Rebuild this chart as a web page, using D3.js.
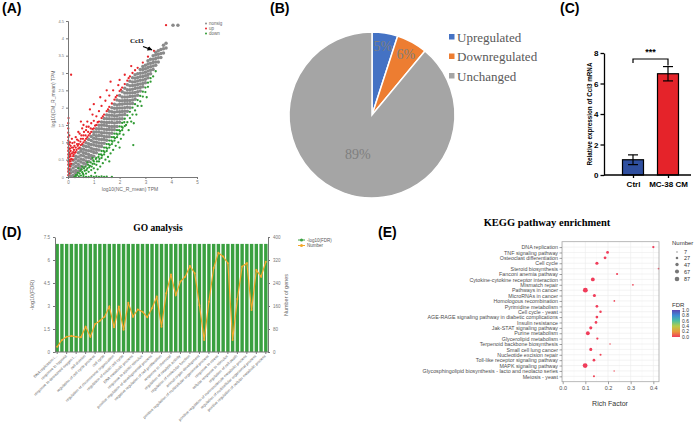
<!DOCTYPE html>
<html><head><meta charset="utf-8">
<script src="https://cdn.jsdelivr.net/npm/d3@7"></script>
<style>body{margin:0;background:#fff}svg{display:block}</style>
</head><body>
<svg id="c" width="694" height="431"></svg>
<script>
// ================= DATA =================
// Panel A: scatter of log10 TPM (CM vs NC)
const volcanoLegend = ["nonsig", "up", "down"];
const grayCols = [
 [0.1,[0.03,0.12,0.21,0.33]],
 [0.2,[0.04,0.15,0.26,0.37,0.48]],
 [0.3,[0.1,0.19,0.3,0.41,0.52,0.6]],
 [0.4,[0.16,0.27,0.36,0.47,0.58,0.7]],
 [0.5,[0.22,0.31,0.43,0.52,0.63,0.74,0.81]],
 [0.6,[0.29,0.4,0.5,0.61,0.7,0.8,0.9]],
 [0.7,[0.37,0.46,0.57,0.68,0.77,0.88,0.99]],
 [0.8,[0.45,0.56,0.65,0.76,0.87,0.96,1.08]],
 [0.9,[0.53,0.62,0.74,0.83,0.94,1.05,1.17]],
 [1.0,[0.6,0.71,0.8,0.92,1.01,1.12,1.22,1.3]],
 [1.1,[0.7,0.79,0.9,1.0,1.1,1.19,1.3,1.39]],
 [1.2,[0.78,0.89,0.98,1.09,1.2,1.3,1.39,1.49]],
 [1.3,[0.88,0.97,1.08,1.19,1.28,1.39,1.49,1.59]],
 [1.4,[0.97,1.08,1.17,1.28,1.38,1.49,1.58,1.69]],
 [1.5,[1.06,1.16,1.27,1.37,1.48,1.57,1.68,1.79]],
 [1.6,[1.16,1.26,1.37,1.46,1.57,1.68,1.78,1.9]],
 [1.7,[1.26,1.36,1.46,1.57,1.67,1.78,1.88,2.0]],
 [1.8,[1.36,1.46,1.56,1.67,1.77,1.87,1.98,2.1]],
 [1.9,[1.46,1.57,1.67,1.77,1.88,1.98,2.08,2.22]],
 [2.0,[1.58,1.68,1.79,1.88,1.99,2.1,2.2,2.35]],
 [2.1,[1.68,1.79,1.89,1.99,2.1,2.2,2.31,2.46]],
 [2.2,[1.8,1.9,2.0,2.11,2.21,2.31,2.42,2.56]],
 [2.3,[1.9,2.01,2.11,2.21,2.31,2.42,2.52,2.66]],
 [2.4,[2.0,2.11,2.21,2.32,2.42,2.52,2.63,2.76]],
 [2.5,[2.12,2.22,2.33,2.43,2.53,2.64,2.74,2.86]],
 [2.6,[2.24,2.34,2.44,2.55,2.65,2.75,2.85,2.95]],
 [2.7,[2.36,2.46,2.57,2.67,2.77,2.87,2.98]],
 [2.8,[2.48,2.58,2.68,2.79,2.89,2.99,3.1]],
 [2.9,[2.6,2.7,2.8,2.9,3.0,3.1,3.19]],
 [3.0,[2.72,2.82,2.92,3.02,3.12,3.22]],
 [3.1,[2.86,2.96,3.06,3.16,3.26,3.35]],
 [3.2,[2.98,3.08,3.18,3.28,3.4]],
 [3.3,[3.1,3.2,3.3,3.4,3.5]],
 [3.4,[3.22,3.32,3.42,3.52,3.6]],
 [3.5,[3.32,3.44,3.54,3.64]],
 [3.6,[3.45,3.56,3.68]],
 [3.7,[3.58,3.7,3.8]],
 [3.8,[3.72,3.86]],
 [4.07,[4.38]],
 [4.26,[4.38]]
];
const upPts = [
 [0.01,0.05],[0.01,0.15],[0.01,0.25],[0.01,0.35],[0.01,0.45],[0.01,0.55],[0.01,0.65],[0.01,0.75],
 [0.01,0.85],[0.01,0.95],[0.01,1.05],[0.01,1.15],[0.01,1.28],[0.01,1.4],[0.01,1.55],
 [0.05,0.1],[0.05,0.22],[0.05,0.34],[0.05,0.46],[0.05,0.58],[0.05,0.7],[0.05,0.82],[0.05,0.94],
 [0.1,0.45],[0.1,0.6],[0.1,0.75],[0.1,0.9],[0.15,1.1],[0.2,0.6],[0.2,0.72],[0.2,0.85],[0.25,1.0],
 [0.3,0.72],[0.3,0.85],[0.3,1.15],[0.35,0.95],[0.4,0.82],[0.4,1.05],[0.45,1.25],[0.5,0.92],[0.5,1.1],
 [0.55,1.4],[0.6,1.0],[0.6,1.2],[0.7,1.1],[0.7,1.35],[0.75,1.6],[0.8,1.2],[0.8,1.45],[0.9,1.3],
 [0.9,1.55],[0.95,1.8],[1.0,1.4],[1.0,1.62],[1.1,1.5],[1.1,1.75],[1.2,1.6],[1.2,1.9],[1.3,1.7],
 [1.3,2.05],[1.4,1.8],[1.45,2.2],[1.5,1.9],[1.6,2.02],[1.6,2.35],[1.7,2.12],[1.75,2.5],[1.8,2.23],
 [1.9,2.35],[1.95,2.65],[2.0,2.48],[2.1,2.58],[2.2,2.68],[2.2,2.95],[2.3,2.78],[2.4,2.9],[2.5,3.0],
 [2.6,3.08],[2.7,3.15],[2.45,3.2],[2.9,3.3],[3.1,3.47],[3.33,3.64],[0.12,2.95],[3.8,4.38],[1.65,2.75],
 [0.85,1.95],[0.4,1.3],[0.6,1.5],[1.25,2.3],
 [0.02,0.2],[0.03,0.4],[0.03,0.6],[0.03,0.8],[0.03,1.0],[0.08,0.3],[0.08,0.5],[0.08,0.65],[0.08,0.82],
 [0.08,1.0],[0.12,0.38],[0.13,0.52],[0.15,0.68],[0.15,0.85],[0.17,0.98],[0.18,0.5],[0.22,0.65],[0.23,0.78],
 [0.25,0.9],[0.27,0.7],[0.33,0.78],[0.35,1.08],[0.38,0.9],[0.42,0.95],[0.45,0.85],[0.48,1.02],[0.52,1.2],
 [0.55,0.95],[0.58,1.1],[0.62,1.3],[0.65,1.05],[0.68,1.2],[0.72,1.45],[0.75,1.15],[0.78,1.3],[0.85,1.25],
 [0.88,1.4],[0.95,1.38],[1.05,1.48],[1.15,1.58],[1.35,1.75],[1.55,1.95],[1.85,2.3],[2.05,2.52],[2.35,2.85],
 [0.02,1.7],[0.05,1.2],[0.5,1.6],[1.0,2.1],[1.5,2.5],[2.0,2.8]
];
const downPts = [
 [0.25,0.0],[0.35,0.06],[0.45,0.1],[0.5,0.04],[0.55,0.14],[0.6,0.06],[0.65,0.18],[0.7,0.1],[0.75,0.25],
 [0.8,0.15],[0.85,0.32],[0.9,0.2],[0.95,0.38],[1.0,0.25],[1.0,0.45],[1.05,0.12],[1.1,0.35],[1.1,0.55],
 [1.15,0.22],[1.2,0.45],[1.2,0.65],[1.25,0.3],[1.3,0.55],[1.3,0.75],[1.35,0.4],[1.4,0.65],[1.4,0.85],
 [1.45,0.5],[1.5,0.75],[1.5,0.95],[1.55,0.58],[1.6,0.85],[1.6,1.05],[1.65,0.68],[1.7,0.95],[1.7,1.15],
 [1.75,0.78],[1.8,1.05],[1.8,1.25],[1.85,0.9],[1.9,1.15],[1.9,1.35],[1.95,1.0],[2.0,1.25],[2.0,1.46],
 [2.05,1.1],[2.1,1.35],[2.1,1.56],[2.15,1.22],[2.2,1.47],[2.2,1.68],[2.3,1.58],[2.3,1.78],[2.35,1.35],
 [2.4,1.7],[2.4,1.88],[2.5,1.8],[2.5,2.0],[2.55,1.55],[2.6,1.92],[2.6,2.1],[2.7,2.05],[2.7,2.22],
 [2.8,2.18],[2.8,2.34],[2.9,2.32],[2.9,2.46],[3.0,2.45],[3.0,2.58],[3.1,2.6],[3.1,2.72],[3.2,2.75],
 [3.2,2.85],[3.3,2.9],[3.4,3.05],[2.53,0.92],[1.0,0.0],[1.5,0.01],[0.9,0.03],[1.3,0.02],[0.55,0.3],
 [0.75,0.42],[0.95,0.55],[1.6,0.45],[2.0,0.85],[0.4,0.25],[0.3,0.0],[0.7,0.0],[1.2,0.0],[1.7,0.0],
 [0.3,0.05],[0.38,0.12],[0.42,0.02],[0.48,0.18],[0.52,0.22],[0.58,0.1],[0.62,0.25],[0.68,0.3],[0.72,0.2],
 [0.78,0.35],[0.82,0.28],[0.88,0.42],[0.92,0.3],[0.98,0.48],[1.02,0.38],[1.08,0.52],[1.12,0.45],[1.18,0.58],
 [1.22,0.52],[1.28,0.65],[1.32,0.62],[1.38,0.75],[1.42,0.72],[1.48,0.85],[1.52,0.82],[1.58,0.95],[1.62,0.92],
 [1.68,1.05],[1.72,1.02],[1.78,1.15],[1.82,1.12],[1.88,1.25],[1.92,1.22],[1.98,1.35],[2.02,1.32],[2.08,1.45],
 [2.12,1.42],[2.18,1.58],[2.25,1.5],[2.45,1.6],[2.65,1.8],[2.85,2.05],[3.05,2.3],[1.1,0.02],[0.8,0.0],
 [1.4,0.0],[0.6,0.0]
];
const aXTicks = [0, 1, 2, 3, 4, 5];
const aYTicks = [0, 0.5, 1, 1.5, 2, 2.5, 3, 3.5, 4, 4.5];

// Panel B: pie
const pieCats = ["Upregulated", "Downregulated", "Unchanged"];
const pieVals = [5, 6, 89];

// Panel C: qPCR
const qpcrGroups = ["Ctrl", "MC-38 CM"];
const qpcrMean = [1.0, 6.64];
const qpcrErr = [0.32, 0.47];
const qpcrTicks = [0, 2, 4, 6, 8];

// Panel D: GO analysis
const goLabels = [
 "DNA replication i...", "response to hypoxia", "response to decreased oxygen l...", "cell division",
 "regulation of cell cycle process", "cell cycle", "regulation of chromosome organization",
 "regulation of mitotic cell cycle", "DNA metabolic process", "response to abiotic stimulus",
 "positive regulation of developmental process", "negative regulation of cell proliferation",
 "response to chemical", "regulation of catalytic activity", "regulation of molecular function",
 "animal organ development", "positive regulation of multicellular organismal process",
 "response to stress", "cellular response to stimulus", "regulation of cell death",
 "positive regulation of macromolecule metabolic process",
 "regulation of multicellular organismal process", "positive regulation of cellular metabolic process"
];
const goFDR = [7.05,7.05,7.05,7.05,7.05,7.05,7.05,7.05,7.05,7.05,7.05,7.05,7.05,7.05,7.05,
 7.05,7.05,7.05,7.05,7.05,7.05,7.05,7.05,7.05,7.05,7.05,7.05,7.05,7.05,7.05,
 7.05,7.05,7.05,7.05,7.05,7.05,7.05,7.05,7.05,7.05,7.05,7.05,7.05,7.05,7.05];
const goNumber = [18,42,53,56,53,51,88,53,97,109,123,158,86,158,77,171,123,148,140,121,152,192,88,204,
 270,198,245,262,299,274,163,42,175,292,345,332,309,42,184,297,309,146,285,262,314];
const goLeftTicks = [0, 1.5, 3, 4.5, 6, 7.5];
const goRightTicks = [0, 80, 160, 240, 320, 400];
const goLegend = ["-log10(FDR)", "Number"];

// Panel E: KEGG
const keggPathways = ["DNA replication","TNF signaling pathway","Osteoclast differentiation","Cell cycle",
 "Steroid biosynthesis","Fanconi anemia pathway","Cytokine-cytokine receptor interaction","Mismatch repair",
 "Pathways in cancer","MicroRNAs in cancer","Homologous recombination","Pyrimidine metabolism",
 "Cell cycle - yeast","AGE-RAGE signaling pathway in diabetic complications","Insulin resistance",
 "Jak-STAT signaling pathway","Purine metabolism","Glycerolipid metabolism","Terpenoid backbone biosynthesis",
 "Small cell lung cancer","Nucleotide excision repair","Toll-like receptor signaling pathway",
 "MAPK signaling pathway","Glycosphingolipid biosynthesis - lacto and neolacto series","Meiosis - yeast"];
const keggRich = [0.40,0.198,0.187,0.151,0.423,0.24,0.133,0.31,0.10,0.14,0.228,0.151,0.167,0.151,0.147,
 0.124,0.111,0.153,0.209,0.124,0.167,0.138,0.099,0.227,0.138];
const keggNumber = [22,32,32,40,12,18,60,12,97,40,12,30,25,30,30,40,60,22,8,38,18,30,95,8,18];
const keggFDR = [0.001,0.001,0.002,0.001,0.01,0.01,0.001,0.02,0.001,0.002,0.02,0.003,0.01,0.004,0.005,
 0.003,0.002,0.01,0.03,0.004,0.02,0.005,0.001,0.03,0.02];
const keggSizeBreaks = [7, 27, 47, 67, 87];
const keggFdrTicks = [0, 0.2, 0.4, 0.6, 0.8, 1.0];
const keggRichTicks = [0, 0.1, 0.2, 0.3, 0.4];

// ================= DRAW =================
const svg = d3.select("#c");
const SANS = "Liberation Sans, Arial, sans-serif";
const SERIF = "Liberation Serif, Times New Roman, serif";

function panelLabel(t, x, y) {
  svg.append("text").attr("x", x).attr("y", y).text(t)
    .attr("font-family", SANS).attr("font-weight", "bold").attr("font-size", 14).attr("fill", "#000");
}
function styleAxis(g, color, fs, family) {
  g.select(".domain").attr("stroke", color);
  g.selectAll(".tick line").attr("stroke", color);
  g.selectAll(".tick text").attr("fill", color).attr("font-size", fs).attr("font-family", family || SANS);
}

// ---------- Panel A ----------
panelLabel("(A)", 2, 13);
{
  const x = d3.scaleLinear().domain([0, 5]).range([68, 197]);
  const y = d3.scaleLinear().domain([0, 4.5]).range([177, 21]);
  const g = svg.append("g");
  const grayPts = grayCols.flatMap(([cx, ys]) => ys.map(v => [cx, v]));
  g.selectAll("circle.ns").data(grayPts).join("circle").attr("class", "ns")
    .attr("cx", d => x(d[0])).attr("cy", d => y(d[1])).attr("r", 1.75).attr("fill", "#8a8a8a");
  g.selectAll("circle.up").data(upPts).join("circle").attr("class", "up")
    .attr("cx", d => x(d[0])).attr("cy", d => y(d[1])).attr("r", 1.15).attr("fill", "#e8242a");
  g.selectAll("circle.dn").data(downPts).join("circle").attr("class", "dn")
    .attr("cx", d => x(d[0])).attr("cy", d => y(d[1])).attr("r", 1.15).attr("fill", "#2f9a33");
  const gx = g.append("g").attr("transform", "translate(0,177)")
    .call(d3.axisBottom(x).tickValues(aXTicks).tickSize(2).tickPadding(2).tickFormat(d => String(d)));
  styleAxis(gx, "#777", 4.5);
  const gy = g.append("g").attr("transform", "translate(68,0)")
    .call(d3.axisLeft(y).tickValues(aYTicks).tickSize(2).tickPadding(2).tickFormat(d => String(d)));
  styleAxis(gy, "#777", 4);
  g.append("text").attr("x", 130).attr("y", 191).attr("text-anchor", "middle")
    .attr("font-family", SANS).attr("font-size", 5).attr("fill", "#666").text("log10(NC_R_mean) TPM");
  g.append("text").attr("transform", "translate(55,99) rotate(-90)").attr("text-anchor", "middle")
    .attr("font-family", SANS).attr("font-size", 5).attr("fill", "#666").text("log10(CM_R_mean) TPM");
  const legCols = ["#8a8a8a", "#e8242a", "#2f9a33"];
  volcanoLegend.forEach((t, i) => {
    g.append("circle").attr("cx", 206).attr("cy", 23.5 + i * 5).attr("r", 1).attr("fill", legCols[i]);
    g.append("text").attr("x", 209).attr("y", 25 + i * 5).attr("font-family", SANS)
      .attr("font-size", 4.5).attr("fill", "#666").text(t);
  });
  svg.append("defs").append("marker").attr("id", "ah").attr("viewBox", "0 0 10 10")
    .attr("refX", 9).attr("refY", 5).attr("markerWidth", 4).attr("markerHeight", 4).attr("orient", "auto")
    .append("path").attr("d", "M0,0L10,5L0,10Z").attr("fill", "#000");
  g.append("text").attr("x", 130).attr("y", 43).attr("font-family", SERIF).attr("font-weight", "bold")
    .attr("font-size", 7).attr("fill", "#111").text("Ccl3");
  g.append("line").attr("x1", 143).attr("y1", 46.5).attr("x2", x(3.33) - 2).attr("y2", y(3.64) - 1)
    .attr("stroke", "#000").attr("stroke-width", 1.2).attr("marker-end", "url(#ah)");
}

// ---------- Panel B ----------
panelLabel("(B)", 270, 13);
{
  const cols = ["#4472c4", "#ed7d31", "#a5a5a5"];
  const cx = 372, cy = 115, R = 83;
  const pie = d3.pie().sort(null).value(d => d)(pieVals);
  const arc = d3.arc().innerRadius(0).outerRadius(R);
  const g = svg.append("g").attr("transform", `translate(${cx},${cy})`);
  g.selectAll("path").data(pie).join("path").attr("d", arc)
    .attr("fill", (d, i) => cols[i]).attr("stroke", "#fff").attr("stroke-width", 1.5);
  g.selectAll("text").data(pie).join("text")
    .attr("transform", d => {
      const r = d.data < 20 ? 70 : 42;
      const a = (d.startAngle + d.endAngle) / 2;
      return `translate(${Math.sin(a) * r},${-Math.cos(a) * r})`;
    })
    .attr("text-anchor", "middle").attr("dy", "0.35em")
    .attr("font-family", SERIF).attr("font-size", 14).attr("fill", "#7f7f7f")
    .text(d => d.data + "%");
  pieCats.forEach((t, i) => {
    svg.append("rect").attr("x", 449).attr("y", 34 + i * 19.5).attr("width", 5.5).attr("height", 5.5).attr("fill", cols[i]);
    svg.append("text").attr("x", 457).attr("y", 41.5 + i * 19.5).attr("font-family", SERIF)
      .attr("font-size", 13).attr("fill", "#595959").text(t);
  });
}

// ---------- Panel C ----------
panelLabel("(C)", 560, 13);
{
  const y = d3.scaleLinear().domain([0, 8]).range([175, 53]);
  const x = d3.scalePoint().domain(qpcrGroups).range([633, 668]);
  const bw = 21;
  const cols = ["#2f4f9f", "#e5232a"];
  const g = svg.append("g");
  g.selectAll("rect").data(qpcrGroups).join("rect")
    .attr("x", d => x(d) - bw / 2).attr("y", (d, i) => y(qpcrMean[i]))
    .attr("width", bw).attr("height", (d, i) => y(0) - y(qpcrMean[i]))
    .attr("fill", (d, i) => cols[i]).attr("stroke", "#000").attr("stroke-width", 1.2);
  qpcrGroups.forEach((d, i) => {
    const hi = y(qpcrMean[i] + qpcrErr[i]), lo = y(qpcrMean[i] - qpcrErr[i]);
    g.append("line").attr("x1", x(d)).attr("x2", x(d)).attr("y1", hi).attr("y2", lo).attr("stroke", "#000").attr("stroke-width", 1.2);
    g.append("line").attr("x1", x(d) - 5).attr("x2", x(d) + 5).attr("y1", hi).attr("y2", hi).attr("stroke", "#000").attr("stroke-width", 1.2);
    g.append("line").attr("x1", x(d) - 5).attr("x2", x(d) + 5).attr("y1", lo).attr("y2", lo).attr("stroke", "#000").attr("stroke-width", 1.2);
  });
  const gy = g.append("g").attr("transform", "translate(604,0)")
    .call(d3.axisLeft(y).tickValues(qpcrTicks).tickSize(3.5).tickPadding(2).tickSizeOuter(0));
  styleAxis(gy, "#000", 8);
  gy.selectAll(".tick text").attr("font-weight", "bold");
  gy.select(".domain").attr("stroke-width", 1.3);
  gy.selectAll(".tick line").attr("stroke-width", 1.3);
  const gx = g.append("g").attr("transform", "translate(0,175)")
    .call(d3.axisBottom(x).tickSize(3).tickPadding(3).tickSizeOuter(0));
  gx.select(".domain").attr("d", "M604,0H691").attr("stroke", "#000").attr("stroke-width", 1.3);
  gx.selectAll(".tick line").attr("stroke", "#000").attr("stroke-width", 1.3);
  gx.selectAll(".tick text").attr("fill", "#000").attr("font-size", 8).attr("font-weight", "bold").attr("font-family", SANS);
  const by = 59;
  g.append("path").attr("d", `M${x("Ctrl")},${by + 4}V${by}H${x("MC-38 CM")}V${y(qpcrMean[1] + qpcrErr[1]) - 1}`)
    .attr("fill", "none").attr("stroke", "#000").attr("stroke-width", 1.2);
  g.append("text").attr("x", (x("Ctrl") + x("MC-38 CM")) / 2).attr("y", 55).attr("text-anchor", "middle")
    .attr("font-family", SANS).attr("font-weight", "bold").attr("font-size", 9).text("***");
  g.append("text").attr("transform", "translate(592,114) rotate(-90)").attr("text-anchor", "middle")
    .attr("font-family", SANS).attr("font-weight", "bold").attr("font-size", 6.3).text("Relative expression of Ccl3 mRNA");
}

// ---------- Panel D ----------
panelLabel("(D)", 2, 237);
{
  const idx = d3.range(goNumber.length);
  const x = d3.scaleBand().domain(idx).range([55, 268]).paddingInner(0.28).paddingOuter(0.1);
  const yL = d3.scaleLinear().domain([0, 7.5]).range([352, 237]);
  const yR = d3.scaleLinear().domain([0, 400]).range([352, 237]);
  const g = svg.append("g");
  g.selectAll("rect").data(idx).join("rect")
    .attr("x", i => x(i)).attr("width", x.bandwidth())
    .attr("y", i => yL(goFDR[i])).attr("height", i => yL(0) - yL(goFDR[i])).attr("fill", "#3aa040");
  const line = d3.line().x(i => x(i) + x.bandwidth() / 2).y(i => yR(goNumber[i]));
  g.append("path").datum(idx).attr("d", line).attr("fill", "none").attr("stroke", "#f3a82a").attr("stroke-width", 1.2);
  g.selectAll("circle").data(idx).join("circle").attr("cx", i => x(i) + x.bandwidth() / 2)
    .attr("cy", i => yR(goNumber[i])).attr("r", 1).attr("fill", "#f3a82a");
  const gl = g.append("g").attr("transform", "translate(55,0)")
    .call(d3.axisLeft(yL).tickValues(goLeftTicks).tickSize(2).tickPadding(3).tickSizeOuter(0).tickFormat(d => String(d)));
  styleAxis(gl, "#777", 4.5);
  const gr = g.append("g").attr("transform", "translate(268,0)")
    .call(d3.axisRight(yR).tickValues(goRightTicks).tickSize(2).tickPadding(3).tickSizeOuter(0));
  styleAxis(gr, "#777", 4.5);
  const gb = g.append("g").attr("transform", "translate(0,352)")
    .call(d3.axisBottom(x).tickValues(idx.filter(i => i % 2 === 0)).tickSize(2).tickSizeOuter(0)
      .tickFormat(i => goLabels[i / 2]));
  styleAxis(gb, "#777", 3.8);
  gb.select(".domain").attr("d", "M55,0H268");
  gb.selectAll(".tick text").attr("text-anchor", "end").attr("transform", "translate(0,3) rotate(-44)")
    .attr("dx", "-0.2em").attr("dy", "0.3em").attr("y", 0).attr("fill", "#666");
  g.append("text").attr("transform", "translate(34,295) rotate(-90)").attr("text-anchor", "middle")
    .attr("font-family", SANS).attr("font-size", 5.5).attr("fill", "#666").text("-log10(FDR)");
  g.append("text").attr("transform", "translate(288,295) rotate(-90)").attr("text-anchor", "middle")
    .attr("font-family", SANS).attr("font-size", 5.5).attr("fill", "#666").text("Number of genes");
  g.append("text").attr("x", 158).attr("y", 231).attr("text-anchor", "middle")
    .attr("font-family", SERIF).attr("font-weight", "bold").attr("font-size", 9.5).text("GO analysis");
  const lc = ["#3aa040", "#f3a82a"];
  goLegend.forEach((t, i) => {
    const ly = 240 + i * 5.5;
    g.append("line").attr("x1", 298).attr("x2", 305).attr("y1", ly).attr("y2", ly).attr("stroke", lc[i]).attr("stroke-width", 1);
    g.append("circle").attr("cx", 301.5).attr("cy", ly).attr("r", 1.5).attr("fill", lc[i]);
    g.append("text").attr("x", 307).attr("y", ly + 1.5).attr("font-family", SANS).attr("font-size", 4.5)
      .attr("fill", "#555").text(t);
  });
}

// ---------- Panel E ----------
panelLabel("(E)", 378, 237);
{
  const x = d3.scaleLinear().domain([-0.003, 0.425]).range([562, 659]);
  const y = d3.scalePoint().domain(keggPathways).range([241.7, 381.7]).padding(1);
  const r = d3.scaleSqrt().domain([0, 87]).range([0, 2.3]);
  const col = d3.scaleLinear().domain(keggFdrTicks)
    .range(["#f03c5a", "#e89a3c", "#b8cc48", "#4cc0a0", "#3f8bd4", "#5a46b4"]);
  const g = svg.append("g");
  g.append("rect").attr("x", 562).attr("y", 241.7).attr("width", 97).attr("height", 140).attr("fill", "#fff");
  const minor = [0.05, 0.15, 0.25, 0.35];
  g.selectAll("line.mn").data(minor).join("line").attr("class", "mn")
    .attr("x1", d => x(d)).attr("x2", d => x(d)).attr("y1", 241.7).attr("y2", 381.7).attr("stroke", "#f4f4f4").attr("stroke-width", 0.4);
  g.selectAll("line.mj").data(keggRichTicks).join("line").attr("class", "mj")
    .attr("x1", d => x(d)).attr("x2", d => x(d)).attr("y1", 241.7).attr("y2", 381.7).attr("stroke", "#ebebeb").attr("stroke-width", 0.6);
  g.selectAll("line.hz").data(keggPathways).join("line").attr("class", "hz")
    .attr("x1", 562).attr("x2", 659).attr("y1", d => y(d)).attr("y2", d => y(d)).attr("stroke", "#ebebeb").attr("stroke-width", 0.6);
  g.selectAll("circle.k").data(keggPathways).join("circle").attr("class", "k")
    .attr("cx", (d, i) => x(keggRich[i])).attr("cy", d => y(d)).attr("r", (d, i) => r(keggNumber[i]))
    .attr("fill", (d, i) => col(keggFDR[i]));
  g.append("rect").attr("x", 562).attr("y", 241.7).attr("width", 97).attr("height", 140)
    .attr("fill", "none").attr("stroke", "#a8a8a8").attr("stroke-width", 0.8);
  const gy = g.append("g").attr("transform", "translate(562,0)")
    .call(d3.axisLeft(y).tickSize(2.5).tickPadding(1.5).tickSizeOuter(0));
  gy.select(".domain").remove();
  gy.selectAll(".tick line").attr("stroke", "#444").attr("stroke-width", 0.5);
  gy.selectAll(".tick text").attr("fill", "#4d4d4d").attr("font-size", 5.3).attr("font-family", SANS);
  const gx = g.append("g").attr("transform", "translate(0,381.7)")
    .call(d3.axisBottom(x).tickValues(keggRichTicks).tickSize(2.5).tickPadding(2).tickFormat(d3.format(".1f")));
  gx.select(".domain").remove();
  gx.selectAll(".tick line").attr("stroke", "#444").attr("stroke-width", 0.5);
  gx.selectAll(".tick text").attr("fill", "#4d4d4d").attr("font-size", 5.5).attr("font-family", SANS);
  g.append("text").attr("x", 610).attr("y", 406).attr("text-anchor", "middle").attr("font-family", SANS)
    .attr("font-size", 7).attr("fill", "#333").text("Rich Factor");
  g.append("text").attr("x", 547).attr("y", 226).attr("text-anchor", "middle")
    .attr("font-family", SERIF).attr("font-weight", "bold").attr("font-size", 10.5).text("KEGG pathway enrichment");
  g.append("text").attr("x", 672).attr("y", 245).attr("font-family", SANS).attr("font-size", 6).attr("fill", "#333").text("Number");
  const ly = [252, 258, 264.5, 271.5, 279];
  keggSizeBreaks.forEach((b, i) => {
    g.append("circle").attr("cx", 677).attr("cy", ly[i]).attr("r", r(b)).attr("fill", "#777");
    g.append("text").attr("x", 684).attr("y", ly[i] + 2).attr("font-family", SANS).attr("font-size", 5.5).attr("fill", "#333").text(b);
  });
  g.append("text").attr("x", 672).attr("y", 307).attr("font-family", SANS).attr("font-size", 6).attr("fill", "#333").text("FDR");
  const grad = svg.append("defs").append("linearGradient").attr("id", "fdrg")
    .attr("x1", 0).attr("y1", 1).attr("x2", 0).attr("y2", 0);
  keggFdrTicks.forEach(t => grad.append("stop").attr("offset", t).attr("stop-color", col(t)));
  const cb = d3.scaleLinear().domain([0, 1]).range([337, 310]);
  g.append("rect").attr("x", 672).attr("y", 310).attr("width", 8).attr("height", 27).attr("fill", "url(#fdrg)");
  keggFdrTicks.forEach(t => {
    g.append("text").attr("x", 682).attr("y", cb(t) + 1.8).attr("font-family", SANS).attr("font-size", 5)
      .attr("fill", "#333").text(d3.format(".1f")(t));
  });
}
</script>
</body></html>
